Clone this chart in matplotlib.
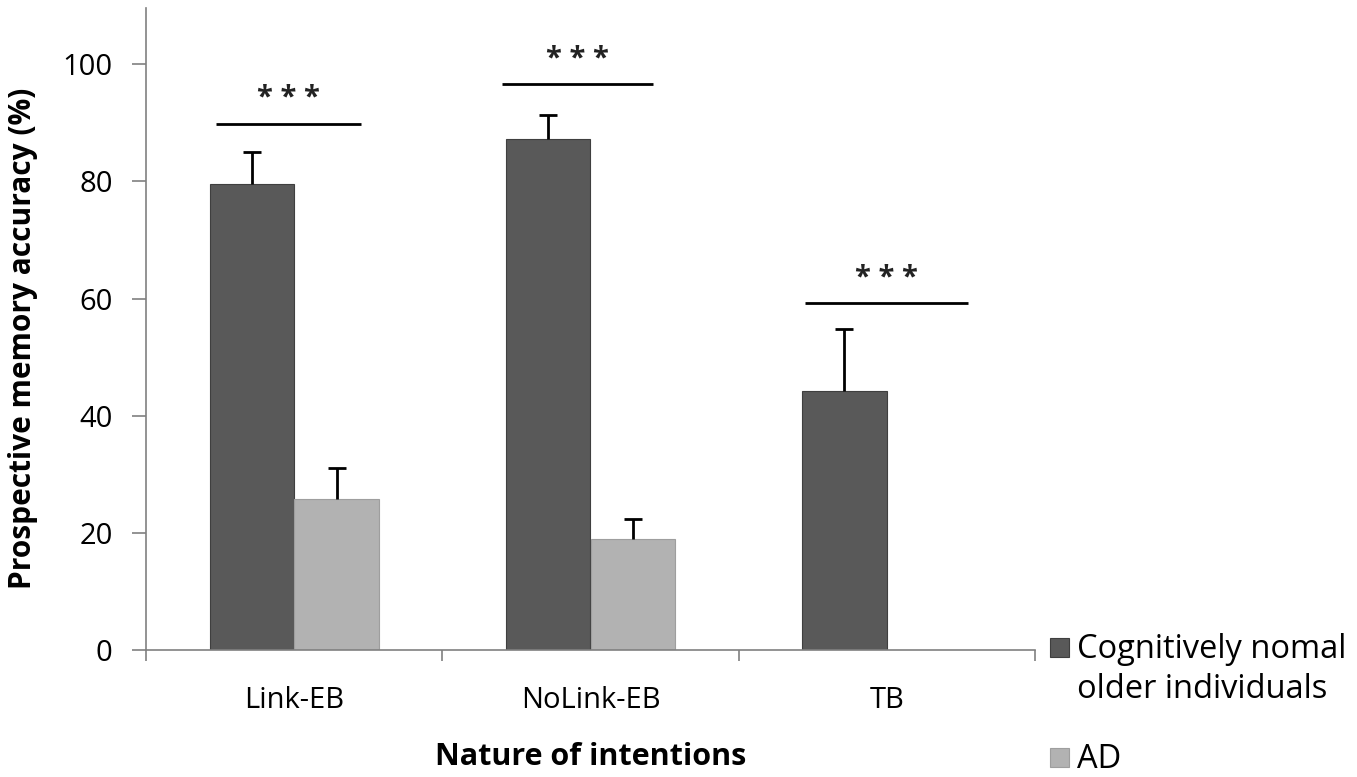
import matplotlib
matplotlib.use("Agg")
import matplotlib.pyplot as plt
from matplotlib.patches import Rectangle
import numpy as np

plt.rcParams['font.family'] = ['Open Sans', 'DejaVu Sans']

categories = ["Link-EB", "NoLink-EB", "TB"]
series_names = ["Cognitively nomal\nolder individuals", "AD"]
cn_values = [79.5, 87.2, 44.2]
cn_err = [5.6, 4.1, 10.6]
ad_values = [25.8, 19.0, None]
ad_err = [5.2, 3.4, None]
sig_labels = ["***", "***", "***"]
sig_y = [89.8, 96.6, 59.2]
yticks = [0, 20, 40, 60, 80, 100]

cn_color = "#595959"
ad_color = "#b2b2b2"

fig = plt.figure(figsize=(13.57, 7.77), dpi=100)
ax = fig.add_axes([146/1357, 1 - 650/777, (1035-146)/1357, (650-8)/777])

x = np.arange(len(categories))
w = 0.285
off = 0.143


def upper_errorbar(xs, ys, es):
    eb = ax.errorbar(xs, ys, yerr=[np.zeros(len(es)), es], fmt="none",
                     ecolor="black", elinewidth=2, capsize=6.5, capthick=2, zorder=3)
    caps = eb[1]
    if len(caps) == 2:
        caps[0].set_visible(False)
    return eb


ax.bar(x - off, cn_values, width=w, color=cn_color, edgecolor="#3f3f3f", linewidth=0.8, zorder=2)
upper_errorbar(x - off, cn_values, cn_err)

ad_idx = [i for i, v in enumerate(ad_values) if v is not None]
ad_x = x[ad_idx] + off
ad_v = [ad_values[i] for i in ad_idx]
ad_e = [ad_err[i] for i in ad_idx]
ax.bar(ad_x, ad_v, width=w, color=ad_color, edgecolor="#9e9e9e", linewidth=0.8, zorder=2)
upper_errorbar(ad_x, ad_v, ad_e)

# significance lines
sig_spans = [(-0.264, 0.227), (-0.30, 0.21), (-0.275, 0.275)]
for i, (lab, yv) in enumerate(zip(sig_labels, sig_y)):
    a, b = sig_spans[i]
    ax.plot([x[i] + a, x[i] + b], [yv, yv], color="black", lw=2, solid_capstyle="butt")
    ax.text(x[i] + (a + b) / 2, yv + 1.8, " ".join(lab), ha="center", va="bottom",
            fontsize=21, color="#222222", fontweight="bold")

ax.set_xlim(-0.5, 2.5)
ax.set_ylim(0, 109.6)
ax.set_yticks(yticks)
ax.set_yticklabels([str(t) for t in yticks], fontsize=21)
ax.tick_params(axis="y", length=10, width=1.2, color="#808080", pad=14)

ax.set_xticks(np.arange(-0.5, 3, 1))
ax.set_xticklabels([])
ax.tick_params(axis="x", which="major", length=8, width=1.2, color="#808080")
ax.set_xticks(x, minor=True)
ax.set_xticklabels(categories, minor=True, fontsize=21)
ax.tick_params(axis="x", which="minor", length=0, pad=26)

for s in ["top", "right"]:
    ax.spines[s].set_visible(False)
for s in ["left", "bottom"]:
    ax.spines[s].set_color("#808080")
    ax.spines[s].set_linewidth(1.2)

ax.set_xlabel("Nature of intentions", fontsize=22, fontweight="bold")
ax.xaxis.set_label_coords(0.5, -0.143)
ax.set_ylabel("Prospective memory accuracy (%)", fontsize=21.5, fontweight="bold")
ax.yaxis.set_label_coords(-0.122, 0.485)

# legend (manual layout)
sq = 19
leg_items = [(series_names[0], cn_color, "#3f3f3f", 638), (series_names[1], ad_color, "#9e9e9e", 748)]
for lab, col, ec, ytop in leg_items:
    fig.patches.append(Rectangle((1050/1357, 1 - (ytop + sq)/777), sq/1357, sq/777,
                                 transform=fig.transFigure, facecolor=col, edgecolor=ec, lw=0.8))
    fig.text(1077/1357, 1 - (ytop - 5)/777, lab, ha="left", va="top", fontsize=23.5,
             linespacing=1.3)

fig.savefig("out.png", dpi=100)
